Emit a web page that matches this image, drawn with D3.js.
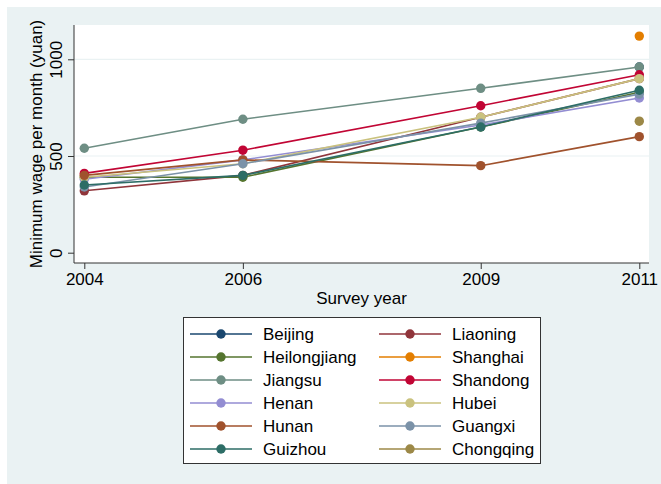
<!DOCTYPE html>
<html>
<head>
<meta charset="utf-8">
<script src="https://cdn.jsdelivr.net/npm/d3@7"></script>
<style>
  body { margin: 0; background: #fff; }
  text { font-family: "Liberation Sans", Arial, sans-serif; fill: #000; }
</style>
</head>
<body>
<div id="root"></div>
<script>
// survey years and province series (null = not surveyed)
const years = [2004, 2006, 2009, 2011];
const provinces = ["Beijing", "Liaoning", "Heilongjiang", "Shanghai", "Jiangsu", "Shandong",
                   "Henan", "Hubei", "Hunan", "Guangxi", "Guizhou", "Chongqing"];
const beijing      = [null, null, null, 960];
const liaoning     = [320, 400, 700, 900];
const heilongjiang = [390, 390, 650, 830];
const shanghai     = [null, null, null, 1120];
const jiangsu      = [540, 690, 850, 960];
const shandong     = [410, 530, 760, 920];
const henan        = [380, 480, 660, 800];
const hubei        = [390, 460, 700, 900];
const hunan        = [400, 480, 450, 600];
const guangxi      = [340, 460, 670, 820];
const guizhou      = [350, 400, 650, 840];
const chongqing    = [null, null, null, 680];
const yTicks = [0, 500, 1000];

const seriesValues = [beijing, liaoning, heilongjiang, shanghai, jiangsu, shandong,
                      henan, hubei, hunan, guangxi, guizhou, chongqing];
const colors = ["#1a476f", "#90353b", "#55752f", "#e37e00", "#6e8e84", "#c10534",
                "#938dd2", "#cac27e", "#a0522d", "#7b92a8", "#2d6d66", "#9c8847"];

const W = 661, H = 484;
const plot = {left: 74, right: 649, top: 25, bottom: 263};
const fontSize = "17px";

const svg = d3.select("#root").append("svg")
    .attr("width", W)
    .attr("height", H);

// graph region
svg.append("rect")
    .attr("x", 7).attr("y", 7)
    .attr("width", W - 7).attr("height", H - 7)
    .attr("fill", "#eaf2f3");

svg.append("rect")
    .attr("x", plot.left).attr("y", plot.top)
    .attr("width", plot.right - plot.left).attr("height", plot.bottom - plot.top)
    .attr("fill", "#fff");

const x = d3.scaleLinear()
    .domain([2004, 2011])
    .range([84.3, 639.3]);

const y = d3.scaleLinear()
    .domain([0, 1000])
    .range([252.7, 59.3]);

// grid lines
svg.selectAll(".grid")
    .data(yTicks.filter(d => d > 0))
    .enter().append("line")
    .attr("class", "grid")
    .attr("x1", plot.left).attr("x2", plot.right)
    .attr("y1", d => y(d)).attr("y2", d => y(d))
    .attr("stroke", "#eaf2f3")
    .attr("stroke-width", 1.2);

// axes
const xAxis = d3.axisBottom(x)
    .tickValues(years)
    .tickFormat(d3.format("d"))
    .tickSize(6)
    .tickSizeOuter(0)
    .tickPadding(4);

const yAxis = d3.axisLeft(y)
    .tickValues(yTicks)
    .tickFormat(d3.format("d"))
    .tickSize(6)
    .tickSizeOuter(0);

const gx = svg.append("g")
    .attr("transform", "translate(0," + plot.bottom + ")")
    .call(xAxis);
gx.select(".domain").attr("d", "M" + plot.left + ",0H" + plot.right).attr("stroke", "#333");
gx.selectAll(".tick line").attr("stroke", "#333");
gx.selectAll(".tick text")
    .attr("font-size", fontSize)
    .attr("font-family", "Liberation Sans, Arial, sans-serif")
    .attr("fill", "#000");

const gy = svg.append("g")
    .attr("transform", "translate(" + plot.left + ",0)")
    .call(yAxis);
gy.select(".domain").attr("d", "M0," + plot.top + "V" + plot.bottom).attr("stroke", "#333");
gy.selectAll(".tick line").attr("stroke", "#333");
gy.selectAll(".tick text")
    .attr("font-size", fontSize)
    .attr("font-family", "Liberation Sans, Arial, sans-serif")
    .attr("fill", "#000")
    .attr("x", null).attr("dy", null)
    .attr("text-anchor", "middle")
    .attr("transform", "translate(-12,0) rotate(-90)");

// axis titles
svg.append("text")
    .attr("x", (plot.left + plot.right) / 2)
    .attr("y", 304)
    .attr("text-anchor", "middle")
    .attr("font-size", fontSize)
    .text("Survey year");

svg.append("text")
    .attr("transform", "translate(42," + ((plot.top + plot.bottom) / 2) + ") rotate(-90)")
    .attr("text-anchor", "middle")
    .attr("font-size", fontSize)
    .text("Minimum wage per month (yuan)");

// series
const series = provinces.map((name, i) => ({
  name: name,
  color: colors[i],
  points: years.map((yr, j) => ({year: yr, value: seriesValues[i][j]}))
}));

const line = d3.line()
    .defined(d => d.value != null)
    .x(d => x(d.year))
    .y(d => y(d.value));

const g = svg.selectAll(".series")
    .data(series)
    .enter().append("g")
    .attr("class", "series");

g.append("path")
    .attr("d", d => line(d.points))
    .attr("fill", "none")
    .attr("stroke", d => d.color)
    .attr("stroke-width", 1.6);

g.selectAll("circle")
    .data(d => d.points.filter(p => p.value != null).map(p => Object.assign({color: d.color}, p)))
    .enter().append("circle")
    .attr("cx", d => x(d.year))
    .attr("cy", d => y(d.value))
    .attr("r", 4.7)
    .attr("fill", d => d.color);

// legend
svg.append("rect")
    .attr("x", 183.5).attr("y", 317.5)
    .attr("width", 357).attr("height", 146)
    .attr("fill", "#fff")
    .attr("stroke", "#333")
    .attr("stroke-width", 1);

const legend = svg.selectAll(".legend")
    .data(series)
    .enter().append("g")
    .attr("class", "legend")
    .attr("transform", (d, i) => "translate(" + (i % 2 === 0 ? 190 : 379) + "," + (334 + Math.floor(i / 2) * 23) + ")");

legend.append("line")
    .attr("x1", 0).attr("x2", 62)
    .attr("stroke", d => d.color)
    .attr("stroke-width", 1.6);

legend.append("circle")
    .attr("cx", 31)
    .attr("r", 4.7)
    .attr("fill", d => d.color);

legend.append("text")
    .attr("x", 73)
    .attr("y", 6)
    .attr("font-size", fontSize)
    .text(d => d.name);
</script>
</body>
</html>
